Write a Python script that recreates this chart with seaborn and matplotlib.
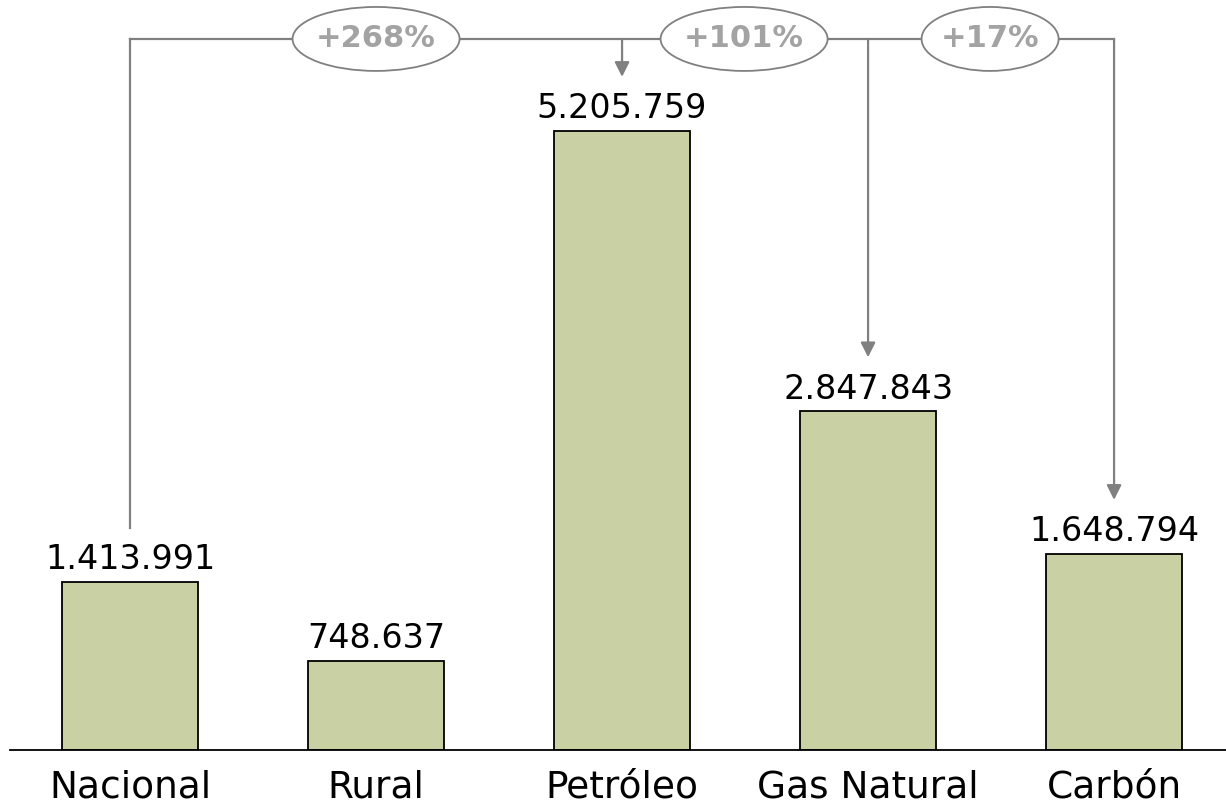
import matplotlib
matplotlib.use("Agg")
import matplotlib.pyplot as plt
from matplotlib.patches import Ellipse
import seaborn as sns
import pandas as pd

categories = ["Nacional", "Rural", "Petróleo", "Gas Natural", "Carbón"]
values = [1413991, 748637, 5205759, 2847843, 1648794]
value_labels = ["1.413.991", "748.637", "5.205.759", "2.847.843", "1.648.794"]

# growth of each target versus Nacional
cmp_targets = [2, 3, 4]
cmp_labels = ["+268%", "+101%", "+17%"]

BAR_COLOR = "#C9D0A4"
LINE_COLOR = "#808080"
PCT_COLOR = "#A3A3A3"

sns.set_theme(style="white")
plt.rcParams["font.family"] = ["DejaVu Sans"]

df = pd.DataFrame({"cat": categories, "val": values})

fig = plt.figure(figsize=(12.26, 8.06), dpi=100)
ax = fig.add_axes([10 / 1226, 56 / 806, 1216 / 1226, 750 / 806])
sns.barplot(data=df, x="cat", y="val", color=BAR_COLOR, edgecolor="black",
            linewidth=1.3, width=0.553, saturation=1, ax=ax)

ax.set_xlim(-0.488, 4.455)
ax.set_ylim(0, 6.3075e6)
for s in ["top", "right", "left"]:
    ax.spines[s].set_visible(False)
ax.spines["bottom"].set_color("black")
ax.spines["bottom"].set_linewidth(1.3)
ax.set_yticks([])
ax.set_xlabel("")
ax.set_ylabel("")
ax.tick_params(axis="x", length=0, pad=14, labelsize=27, labelcolor="black")

for i, (v, lab) in enumerate(zip(values, value_labels)):
    ax.annotate(lab, (i, v), xytext=(0, 4), textcoords="offset points",
                ha="center", va="bottom", fontsize=24, color="black")

# connector lines
line_y = 5.98e6
gap = 4.55e5
lw = 1.6
ax.plot([0, 0], [values[0] + gap, line_y], color=LINE_COLOR, lw=lw,
        clip_on=False, solid_capstyle="projecting")
ax.plot([0, cmp_targets[-1]], [line_y, line_y], color=LINE_COLOR, lw=lw,
        clip_on=False, solid_capstyle="projecting")
for t in cmp_targets:
    ax.annotate("", xy=(t, values[t] + gap), xytext=(t, line_y),
                arrowprops=dict(arrowstyle="-|>", color=LINE_COLOR, lw=lw,
                                mutation_scale=22, shrinkA=0, shrinkB=0),
                annotation_clip=False)

ell_x = [1.0, 2.496, 3.496]
ell_w = [0.679, 0.679, 0.557]
for cx, w, lab in zip(ell_x, ell_w, cmp_labels):
    e = Ellipse((cx, line_y), w, 5.38e5, facecolor="white", edgecolor=LINE_COLOR,
                lw=1.3, clip_on=False, zorder=5)
    ax.add_patch(e)
    ax.text(cx, line_y, lab, ha="center", va="center", fontsize=22,
            fontweight="bold", color=PCT_COLOR, zorder=6, clip_on=False)

fig.savefig("out.png", dpi=100)
